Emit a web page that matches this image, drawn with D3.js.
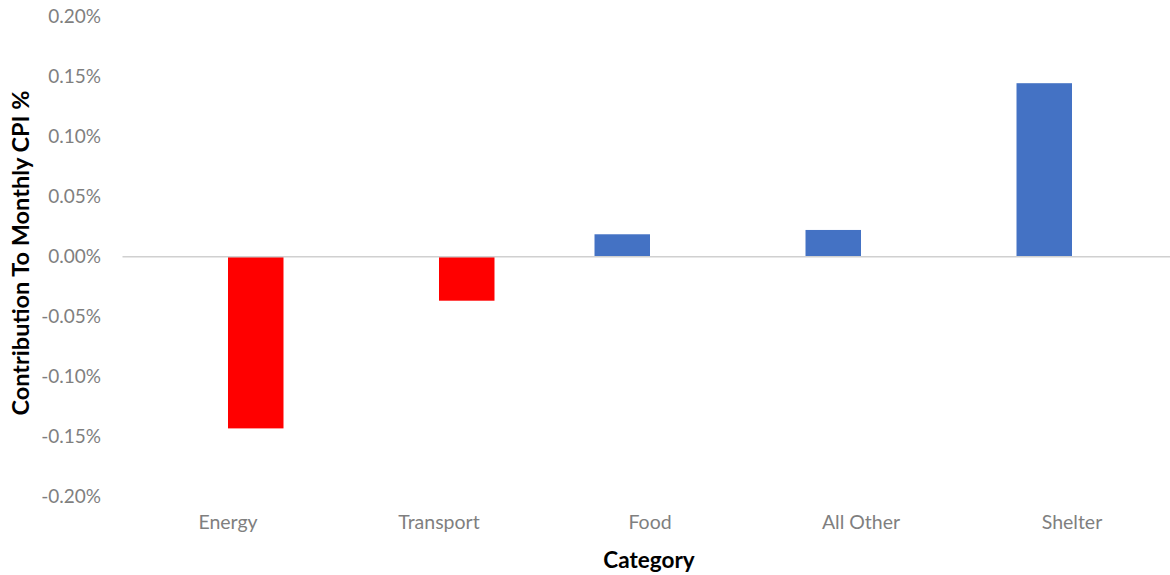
<!DOCTYPE html>
<html>
<head>
<meta charset="utf-8">
<script src="https://cdn.jsdelivr.net/npm/d3@7"></script>
<style>
  html, body { margin: 0; padding: 0; background: #fff; }
  svg { display: block; }
  text { font-family: Lato, "Open Sans", sans-serif; }
</style>
</head>
<body>
<svg id="chart" width="1170" height="575"></svg>
<script>
// ---- data (values in percent points) ----
const categories = ["Energy", "Transport", "Food", "All Other", "Shelter"];
const seriesNames = ["Increase", "Decrease"];
const increaseValues = [null, null, 0.0187, 0.0223, 0.1447];
const decreaseValues = [-0.1432, -0.0367, null, null, null];
const yTicks = [-0.20, -0.15, -0.10, -0.05, 0.00, 0.05, 0.10, 0.15, 0.20];
const seriesColors = ["#4472C4", "#FF0000"];
const xTitle = "Category";
const yTitle = "Contribution To Monthly CPI %";

// ---- layout ----
const svg = d3.select("#chart");
const plot = { left: 122.5, right: 1177.5, top: 16.9, bottom: 496.5 };

const x0 = d3.scaleBand()
  .domain(categories)
  .range([plot.left, plot.right])
  .paddingInner(0.474)
  .paddingOuter(0.237);

const x1 = d3.scaleBand()
  .domain(seriesNames)
  .range([0, x0.bandwidth()]);

const y = d3.scaleLinear()
  .domain([-0.20, 0.20])
  .range([plot.bottom, plot.top]);

const seriesData = [increaseValues, decreaseValues];
const rows = [];
seriesNames.forEach((s, si) => {
  categories.forEach((c, ci) => {
    const v = seriesData[si][ci];
    if (v !== null) rows.push({ series: s, cat: c, value: v, color: seriesColors[si] });
  });
});

// bars
svg.append("g").selectAll("rect")
  .data(rows)
  .join("rect")
  .attr("x", d => x0(d.cat) + x1(d.series))
  .attr("width", x1.bandwidth())
  .attr("y", d => y(Math.max(0, d.value)))
  .attr("height", d => Math.abs(y(d.value) - y(0)))
  .attr("fill", d => d.color);

// zero line (category axis)
svg.append("line")
  .attr("x1", plot.left).attr("x2", plot.right)
  .attr("y1", y(0)).attr("y2", y(0))
  .attr("stroke", "#d0d0d0")
  .attr("stroke-width", 1.5);

// y axis labels
const yAxis = d3.axisLeft(y)
  .tickValues(yTicks)
  .tickFormat(d => d.toFixed(2) + "%")
  .tickSize(0)
  .tickPadding(0);
const yg = svg.append("g")
  .attr("transform", `translate(101,0)`)
  .call(yAxis);
yg.select(".domain").remove();
yg.selectAll("text")
  .attr("fill", "#7f7f7f")
  .style("font-size", "19px")
  .style("font-family", "Lato, 'Open Sans', sans-serif");

// x axis labels
const xAxis = d3.axisBottom(x0).tickSize(0).tickPadding(0);
const xg = svg.append("g")
  .attr("transform", `translate(0,515)`)
  .call(xAxis);
xg.select(".domain").remove();
xg.selectAll("text")
  .attr("fill", "#7f7f7f")
  .style("font-size", "19.5px")
  .style("font-family", "Lato, 'Open Sans', sans-serif");

// axis titles
svg.append("text")
  .attr("x", 649)
  .attr("y", 568)
  .attr("text-anchor", "middle")
  .attr("fill", "#000")
  .style("font-size", "22.5px")
  .style("font-weight", "bold")
  .text(xTitle);

svg.append("text")
  .attr("transform", "translate(29,253) rotate(-90)")
  .attr("text-anchor", "middle")
  .attr("fill", "#000")
  .style("font-size", "23.5px")
  .style("font-weight", "bold")
  .text(yTitle);
</script>
</body>
</html>
